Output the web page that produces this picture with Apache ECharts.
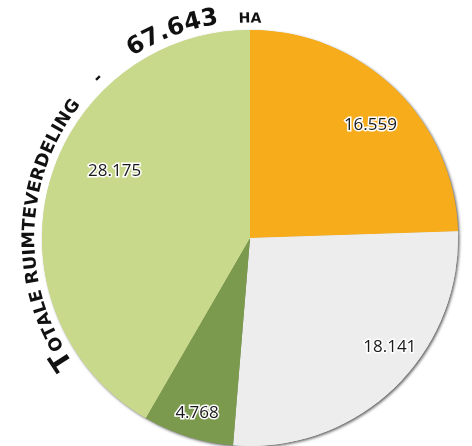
<!DOCTYPE html>
<html>
<head>
<meta charset="utf-8">
<script src="https://cdn.jsdelivr.net/npm/echarts@6/dist/echarts.min.js"></script>
<style>
html,body{margin:0;padding:0;background:#fff;}
#chart{width:472px;height:446px;}
</style>
</head>
<body>
<div id="chart"></div>
<script>
// ---- data ----
var categories = ['Oranje', 'Grijs', 'Donkergroen', 'Lichtgroen'];
var values = [16.559, 18.141, 4.768, 28.175];
var valueLabels = ['16.559', '18.141', '4.768', '28.175'];
var titleParts = ['T', 'OTALE RUIMTEVERDELING', '-', '67.643', 'HA'];

// ---- styling ----
var colors = ['#F6AC1B', '#EDEDED', '#7B9A4E', '#C8D98C'];
var labelShift = [[46, -36], [66, 32], [-21, 73], [-32, -39]];
var titleSizes = [27, 17.5, 17, 24, 14];
var titleStarts = [-125.5, null, -44.5, -33, -3]; // degrees, clockwise from top
var center = [250, 238];
var pieRadius = 208;
var baseR = 214;

var chart = echarts.init(document.getElementById('chart'), null, {renderer: 'canvas'});

// build curved title along the pie edge
var cvs = document.createElement('canvas');
var ctx = cvs.getContext('2d');
var fontFam = '"DejaVu Sans", sans-serif';
var graphics = [];
var s = 0;
titleParts.forEach(function (part, pi) {
  var size = titleSizes[pi];
  var font = 'bold ' + size + 'px ' + fontFam;
  ctx.font = font;
  if (titleStarts[pi] !== null) s = titleStarts[pi] * Math.PI / 180;
  for (var i = 0; i < part.length; i++) {
    var ch = part[i];
    var w = ctx.measureText(ch).width;
    var a = s + (w / 2) / baseR;
    var r = baseR + size * 0.36;
    if (ch !== ' ') {
      graphics.push({
        type: 'text',
        x: center[0] + r * Math.sin(a),
        y: center[1] - r * Math.cos(a),
        rotation: -a,
        style: {text: ch, font: font, fill: '#111', align: 'center', verticalAlign: 'middle'},
        z: 10
      });
    }
    s += w / baseR;
  }
});

var pieData = categories.map(function (c, i) {
  return {name: c, value: values[i], itemStyle: {color: colors[i]}};
});

chart.setOption({
  animation: false,
  backgroundColor: '#fff',
  graphic: graphics,
  series: [{
    // shadow layer behind
    type: 'pie',
    z: 1,
    center: center,
    radius: [0, pieRadius],
    startAngle: 90,
    clockwise: true,
    silent: true,
    itemStyle: {
      borderWidth: 0,
      shadowBlur: 3,
      shadowOffsetX: 1.5,
      shadowOffsetY: 1.5,
      shadowColor: 'rgba(0,0,0,0.6)'
    },
    label: {show: false},
    labelLine: {show: false},
    emphasis: {disabled: true},
    data: pieData
  }, {
    type: 'pie',
    z: 2,
    center: center,
    radius: [0, pieRadius],
    startAngle: 90,
    clockwise: true,
    avoidLabelOverlap: false,
    itemStyle: {borderWidth: 0},
    label: {
      show: true,
      position: 'inside',
      fontFamily: '"Open Sans", sans-serif',
      fontSize: 17,
      color: '#1a1a1a',
      textBorderColor: '#fff',
      textBorderWidth: 3,
      formatter: function (p) { return valueLabels[p.dataIndex]; }
    },
    labelLine: {show: false},
    labelLayout: function (p) {
      var d = labelShift[p.dataIndex];
      return {dx: d[0], dy: d[1]};
    },
    emphasis: {disabled: true},
    data: pieData
  }]
});
</script>
</body>
</html>
